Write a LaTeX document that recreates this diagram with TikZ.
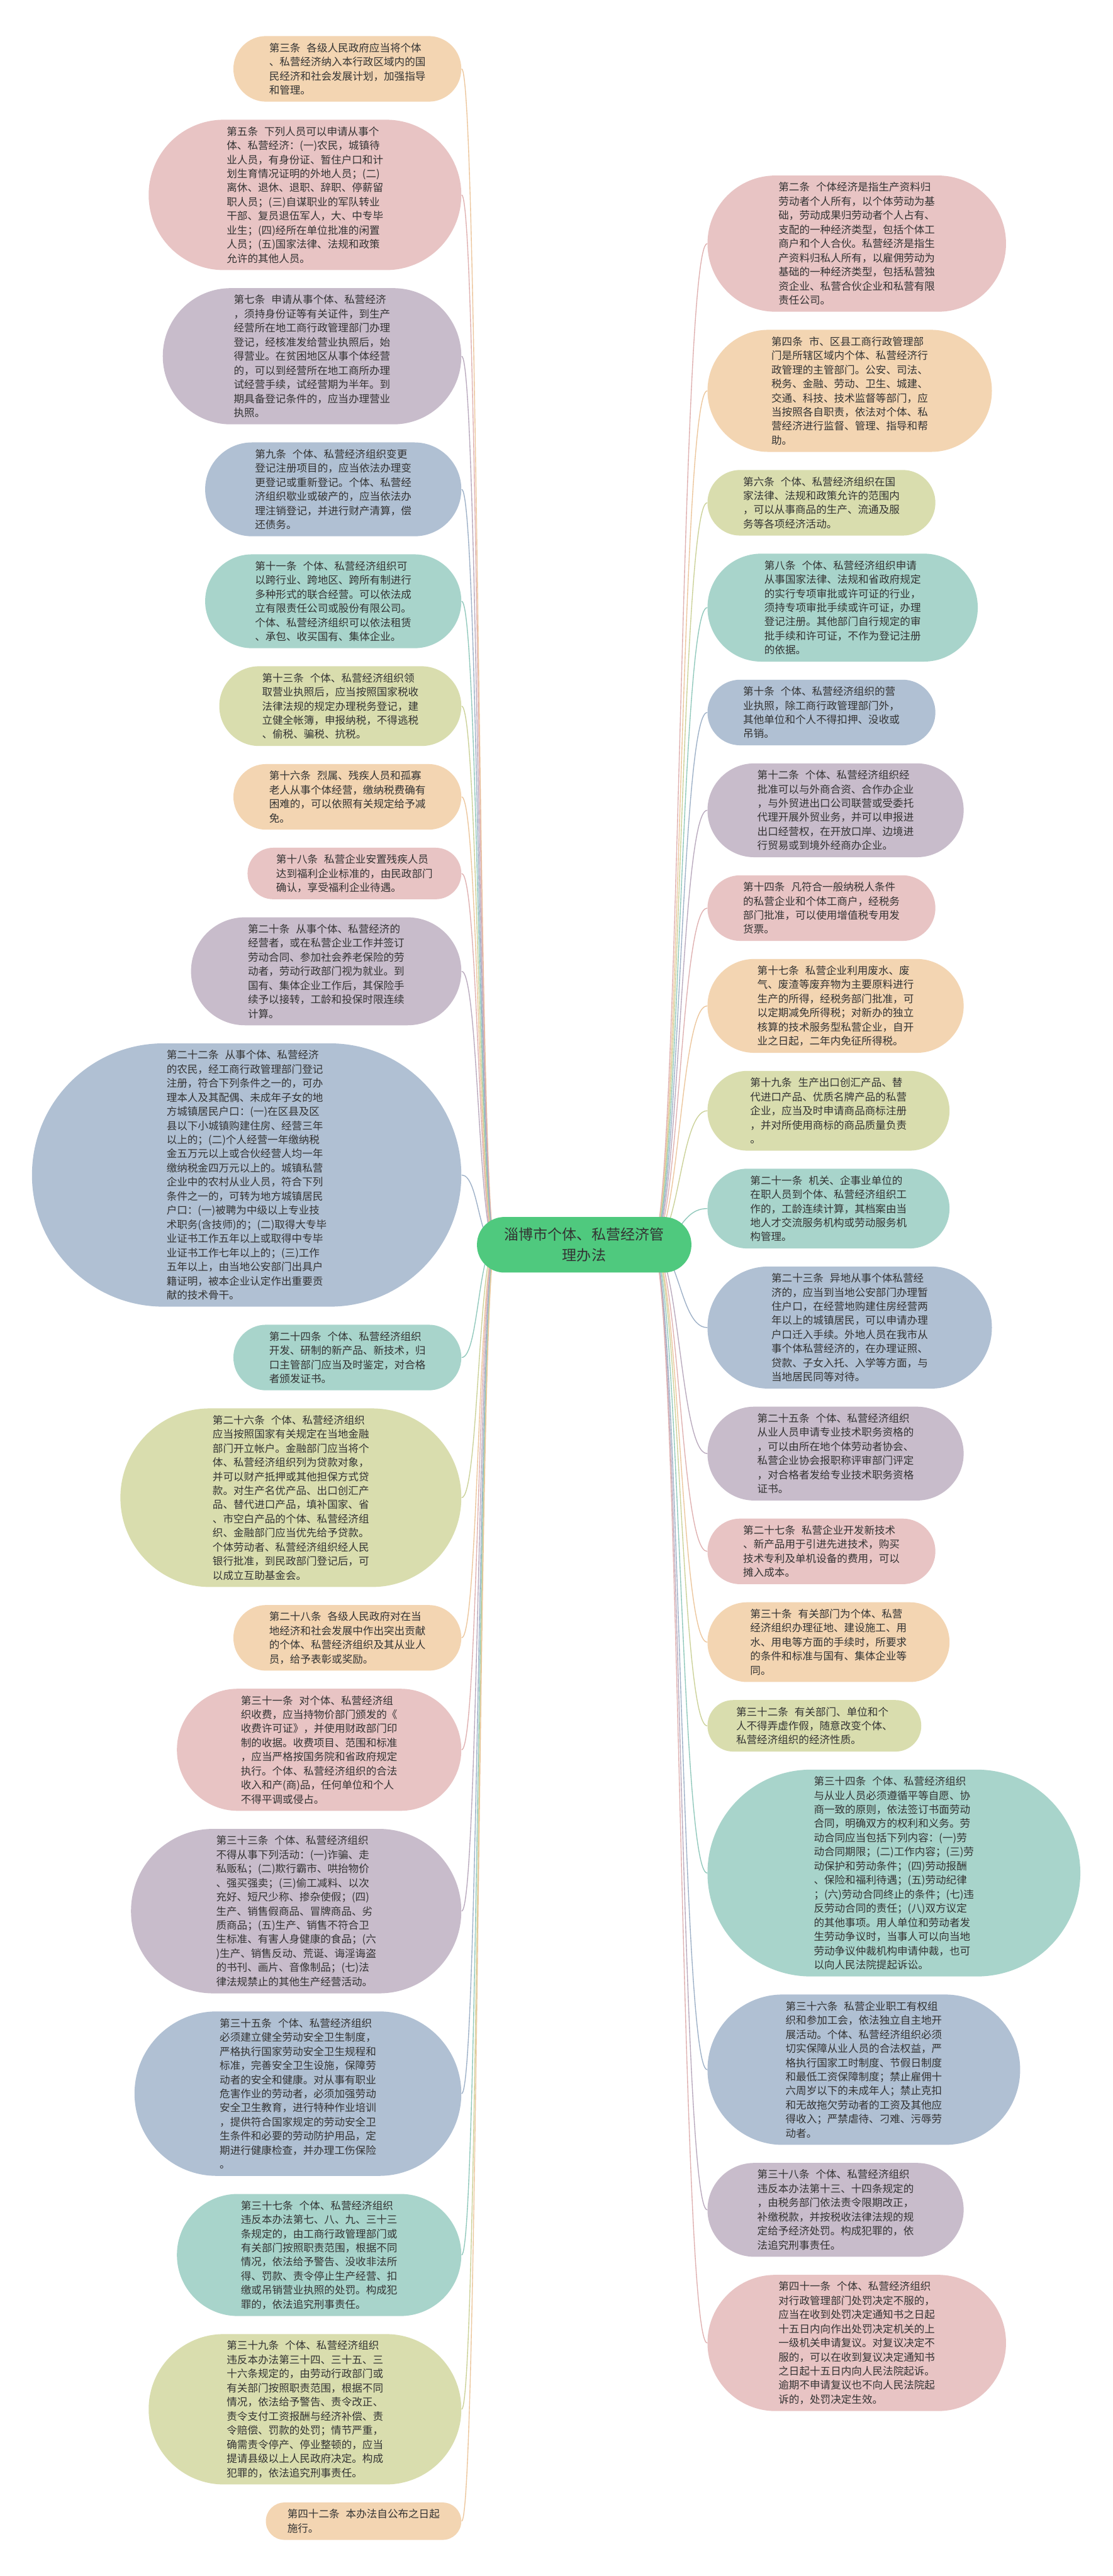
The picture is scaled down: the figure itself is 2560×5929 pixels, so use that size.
\documentclass[tikz,border=0pt]{standalone}
\usepackage{fontspec}
\newfontfamily\cjk{Noto Sans CJK SC}
\usetikzlibrary{calc}
\definecolor{cPeach}{HTML}{F3D5B2}
\definecolor{cPink}{HTML}{E8C4C4}
\definecolor{cLav}{HTML}{C8BCCB}
\definecolor{cBlue}{HTML}{B0C0D3}
\definecolor{cTeal}{HTML}{A8D4CB}
\definecolor{cOlive}{HTML}{D9DDAE}
\definecolor{lPeach}{HTML}{ECC69C}
\definecolor{lPink}{HTML}{DFB0B0}
\definecolor{lLav}{HTML}{B9A9BD}
\definecolor{lBlue}{HTML}{9DB0C7}
\definecolor{lTeal}{HTML}{90C8BB}
\definecolor{lOlive}{HTML}{CBD198}
\definecolor{cGreen}{HTML}{4FC97E}
\definecolor{txt}{HTML}{333333}
\pgfdeclarelayer{back}\pgfdeclarelayer{edges}
\pgfsetlayers{back,edges,main}
\newcommand\hs{\hspace{0.6em}}
\tikzset{
 leafbox/.style={rectangle, align=left, inner ysep=0pt, text=txt, font=\cjk\fontsize{7.2pt}{9.75pt}\selectfont},
 link/.style={line width=0.6pt},
}
\newcommand\leaf[7]{%
 \pgfmathsetmacro\hpx{32.5*#5+21}%
 \pgfmathsetmacro\cyy{#4+\hpx/2}%
 \pgfmathsetmacro\hpt{0.3*\hpx}%
 \pgfmathsetmacro\xs{\hpt/2+2}%
 \pgfmathsetmacro\rr{\hpt/2-0.05}%
 \node[leafbox, fill=#6, minimum height=\hpt pt, inner xsep=\xs pt, rounded corners=\rr pt, anchor=#2] (#1) at (#3,\cyy) {#7};%
}
\begin{document}
\begin{tikzpicture}[x=0.3pt,y=-0.3pt]
\begin{pgfonlayer}{back}
\fill[white] (0,0) rectangle (2560,5929);
\end{pgfonlayer}
\useasboundingbox (0,0) rectangle (2560,5929);

\node[fill=cGreen, rounded corners=19pt, minimum height=38.4pt, inner xsep=19pt, inner ysep=0pt, align=center, text=txt, font=\cjk\fontsize{10pt}{14pt}\selectfont] (ctr) at (1344,2865) {淄博市个体、私营经济管\\理办法};

% left column
\leaf{L1}{east}{1062}{83}{4}{cPeach}{第三条\hs 各级人民政府应当将个体\\、私营经济纳入本行政区域内的国\\民经济和社会发展计划，加强指导\\和管理。}
\leaf{L2}{east}{1062}{275.6}{10}{cPink}{第五条\hs 下列人员可以申请从事个\\体、私营经济：(一)农民，城镇待\\业人员，有身份证、暂住户口和计\\划生育情况证明的外地人员；(二)\\离休、退休、退职、辞职、停薪留\\职人员；(三)自谋职业的军队转业\\干部、复员退伍军人，大、中专毕\\业生；(四)经所在单位批准的闲置\\人员；(五)国家法律、法规和政策\\允许的其他人员。}
\leaf{L3}{east}{1062}{663.2}{9}{cLav}{第七条\hs 申请从事个体、私营经济\\，须持身份证等有关证件，到生产\\经营所在地工商行政管理部门办理\\登记，经核准发给营业执照后，始\\得营业。在贫困地区从事个体经营\\的，可以到经营所在地工商所办理\\试经营手续，试经营期为半年。到\\期具备登记条件的，应当办理营业\\执照。}
\leaf{L4}{east}{1062}{1018.3}{6}{cBlue}{第九条\hs 个体、私营经济组织变更\\登记注册项目的，应当依法办理变\\更登记或重新登记。个体、私营经\\济组织歇业或破产的，应当依法办\\理注销登记，并进行财产清算，偿\\还债务。}
\leaf{L5}{east}{1062}{1275.9}{6}{cTeal}{第十一条\hs 个体、私营经济组织可\\以跨行业、跨地区、跨所有制进行\\多种形式的联合经营。可以依法成\\立有限责任公司或股份有限公司。\\个体、私营经济组织可以依法租赁\\、承包、收买国有、集体企业。}
\leaf{L6}{east}{1062}{1533.5}{5}{cOlive}{第十三条\hs 个体、私营经济组织领\\取营业执照后，应当按照国家税收\\法律法规的规定办理税务登记，建\\立健全帐簿，申报纳税，不得逃税\\、偷税、骗税、抗税。}
\leaf{L7}{east}{1062}{1758.6}{4}{cPeach}{第十六条\hs 烈属、残疾人员和孤寡\\老人从事个体经营，缴纳税费确有\\困难的，可以依照有关规定给予减\\免。}
\leaf{L8}{east}{1062}{1951.2}{3}{cPink}{第十八条\hs 私营企业安置残疾人员\\达到福利企业标准的，由民政部门\\确认，享受福利企业待遇。}
\leaf{L9}{east}{1062}{2111.3}{7}{cLav}{第二十条\hs 从事个体、私营经济的\\经营者，或在私营企业工作并签订\\劳动合同、参加社会养老保险的劳\\动者，劳动行政部门视为就业。到\\国有、集体企业工作后，其保险手\\续予以接转，工龄和投保时限连续\\计算。}
\leaf{L10}{east}{1062}{2401.4}{18}{cBlue}{第二十二条\hs 从事个体、私营经济\\的农民，经工商行政管理部门登记\\注册，符合下列条件之一的，可办\\理本人及其配偶、未成年子女的地\\方城镇居民户口：(一)在区县及区\\县以下小城镇购建住房、经营三年\\以上的；(二)个人经营一年缴纳税\\金五万元以上或合伙经营人均一年\\缴纳税金四万元以上的。城镇私营\\企业中的农村从业人员，符合下列\\条件之一的，可转为地方城镇居民\\户口：(一)被聘为中级以上专业技\\术职务(含技师)的；(二)取得大专毕\\业证书工作五年以上或取得中专毕\\业证书工作七年以上的；(三)工作\\五年以上，由当地公安部门出具户\\籍证明，被本企业认定作出重要贡\\献的技术骨干。}
\leaf{L11}{east}{1062}{3049}{4}{cTeal}{第二十四条\hs 个体、私营经济组织\\开发、研制的新产品、新技术，归\\口主管部门应当及时鉴定，对合格\\者颁发证书。}
\leaf{L12}{east}{1062}{3241.6}{12}{cOlive}{第二十六条\hs 个体、私营经济组织\\应当按照国家有关规定在当地金融\\部门开立帐户。金融部门应当将个\\体、私营经济组织列为贷款对象，\\并可以财产抵押或其他担保方式贷\\款。对生产名优产品、出口创汇产\\品、替代进口产品，填补国家、省\\、市空白产品的个体、私营经济组\\织、金融部门应当优先给予贷款。\\个体劳动者、私营经济组织经人民\\银行批准，到民政部门登记后，可\\以成立互助基金会。}
\leaf{L13}{east}{1062}{3694.2}{4}{cPeach}{第二十八条\hs 各级人民政府对在当\\地经济和社会发展中作出突出贡献\\的个体、私营经济组织及其从业人\\员，给予表彰或奖励。}
\leaf{L14}{east}{1062}{3886.8}{8}{cPink}{第三十一条\hs 对个体、私营经济组\\织收费，应当持物价部门颁发的《\\收费许可证》，并使用财政部门印\\制的收据。收费项目、范围和标准\\，应当严格按国务院和省政府规定\\执行。个体、私营经济组织的合法\\收入和产(商)品，任何单位和个人\\不得平调或侵占。}
\leaf{L15}{east}{1062}{4209.4}{11}{cLav}{第三十三条\hs 个体、私营经济组织\\不得从事下列活动：(一)诈骗、走\\私贩私；(二)欺行霸市、哄抬物价\\、强买强卖；(三)偷工减料、以次\\充好、短尺少称、掺杂使假；(四)\\生产、销售假商品、冒牌商品、劣\\质商品；(五)生产、销售不符合卫\\生标准、有害人身健康的食品；(六\\)生产、销售反动、荒诞、诲淫诲盗\\的书刊、画片、音像制品；(七)法\\律法规禁止的其他生产经营活动。}
\leaf{L16}{east}{1062}{4629.5}{11}{cBlue}{第三十五条\hs 个体、私营经济组织\\必须建立健全劳动安全卫生制度，\\严格执行国家劳动安全卫生规程和\\标准，完善安全卫生设施，保障劳\\动者的安全和健康。对从事有职业\\危害作业的劳动者，必须加强劳动\\安全卫生教育，进行特种作业培训\\，提供符合国家规定的劳动安全卫\\生条件和必要的劳动防护用品，定\\期进行健康检查，并办理工伤保险\\。}
\leaf{L17}{east}{1062}{5049.6}{8}{cTeal}{第三十七条\hs 个体、私营经济组织\\违反本办法第七、八、九、三十三\\条规定的，由工商行政管理部门或\\有关部门按照职责范围，根据不同\\情况，依法给予警告、没收非法所\\得、罚款、责令停止生产经营、扣\\缴或吊销营业执照的处罚。构成犯\\罪的，依法追究刑事责任。}
\leaf{L18}{east}{1062}{5372.2}{10}{cOlive}{第三十九条\hs 个体、私营经济组织\\违反本办法第三十四、三十五、三\\十六条规定的，由劳动行政部门或\\有关部门按照职责范围，根据不同\\情况，依法给予警告、责令改正、\\责令支付工资报酬与经济补偿、责\\令赔偿、罚款的处罚；情节严重，\\确需责令停产、停业整顿的，应当\\提请县级以上人民政府决定。构成\\犯罪的，依法追究刑事责任。}
\leaf{L19}{east}{1062}{5759.8}{2}{cPeach}{第四十二条\hs 本办法自公布之日起\\施行。}

% right column
\leaf{R1}{west}{1627}{404}{9}{cPink}{第二条\hs 个体经济是指生产资料归\\劳动者个人所有，以个体劳动为基\\础，劳动成果归劳动者个人占有、\\支配的一种经济类型，包括个体工\\商户和个人合伙。私营经济是指生\\产资料归私人所有，以雇佣劳动为\\基础的一种经济类型，包括私营独\\资企业、私营合伙企业和私营有限\\责任公司。}
\leaf{R2}{west}{1627}{759.1}{8}{cPeach}{第四条\hs 市、区县工商行政管理部\\门是所辖区域内个体、私营经济行\\政管理的主管部门。公安、司法、\\税务、金融、劳动、卫生、城建、\\交通、科技、技术监督等部门，应\\当按照各自职责，依法对个体、私\\营经济进行监督、管理、指导和帮\\助。}
\leaf{R3}{west}{1627}{1081.7}{4}{cOlive}{第六条\hs 个体、私营经济组织在国\\家法律、法规和政策允许的范围内\\，可以从事商品的生产、流通及服\\务等各项经济活动。}
\leaf{R4}{west}{1627}{1274.3}{7}{cTeal}{第八条\hs 个体、私营经济组织申请\\从事国家法律、法规和省政府规定\\的实行专项审批或许可证的行业，\\须持专项审批手续或许可证，办理\\登记注册。其他部门自行规定的审\\批手续和许可证，不作为登记注册\\的依据。}
\leaf{R5}{west}{1627}{1564.4}{4}{cBlue}{第十条\hs 个体、私营经济组织的营\\业执照，除工商行政管理部门外，\\其他单位和个人不得扣押、没收或\\吊销。}
\leaf{R6}{west}{1627}{1757}{6}{cLav}{第十二条\hs 个体、私营经济组织经\\批准可以与外商合资、合作办企业\\，与外贸进出口公司联营或受委托\\代理开展外贸业务，并可以申报进\\出口经营权，在开放口岸、边境进\\行贸易或到境外经商办企业。}
\leaf{R7}{west}{1627}{2014.6}{4}{cPink}{第十四条\hs 凡符合一般纳税人条件\\的私营企业和个体工商户，经税务\\部门批准，可以使用增值税专用发\\货票。}
\leaf{R8}{west}{1627}{2207.2}{6}{cPeach}{第十七条\hs 私营企业利用废水、废\\气、废渣等废弃物为主要原料进行\\生产的所得，经税务部门批准，可\\以定期减免所得税；对新办的独立\\核算的技术服务型私营企业，自开\\业之日起，二年内免征所得税。}
\leaf{R9}{west}{1627}{2464.8}{5}{cOlive}{第十九条\hs 生产出口创汇产品、替\\代进口产品、优质名牌产品的私营\\企业，应当及时申请商品商标注册\\，并对所使用商标的商品质量负责\\。}
\leaf{R10}{west}{1627}{2689.9}{5}{cTeal}{第二十一条\hs 机关、企事业单位的\\在职人员到个体、私营经济组织工\\作的，工龄连续计算，其档案由当\\地人才交流服务机构或劳动服务机\\构管理。}
\leaf{R11}{west}{1627}{2915}{8}{cBlue}{第二十三条\hs 异地从事个体私营经\\济的，应当到当地公安部门办理暂\\住户口，在经营地购建住房经营两\\年以上的城镇居民，可以申请办理\\户口迁入手续。外地人员在我市从\\事个体私营经济的，在办理证照、\\贷款、子女入托、入学等方面，与\\当地居民同等对待。}
\leaf{R12}{west}{1627}{3237.6}{6}{cLav}{第二十五条\hs 个体、私营经济组织\\从业人员申请专业技术职务资格的\\，可以由所在地个体劳动者协会、\\私营企业协会报职称评审部门评定\\，对合格者发给专业技术职务资格\\证书。}
\leaf{R13}{west}{1627}{3495.2}{4}{cPink}{第二十七条\hs 私营企业开发新技术\\、新产品用于引进先进技术，购买\\技术专利及单机设备的费用，可以\\摊入成本。}
\leaf{R14}{west}{1627}{3687.8}{5}{cPeach}{第三十条\hs 有关部门为个体、私营\\经济组织办理征地、建设施工、用\\水、用电等方面的手续时，所要求\\的条件和标准与国有、集体企业等\\同。}
\leaf{R15}{west}{1627}{3912.9}{3}{cOlive}{第三十二条\hs 有关部门、单位和个\\人不得弄虚作假，随意改变个体、\\私营经济组织的经济性质。}
\leaf{R16}{west}{1627}{4073}{14}{cTeal}{第三十四条\hs 个体、私营经济组织\\与从业人员必须遵循平等自愿、协\\商一致的原则，依法签订书面劳动\\合同，明确双方的权利和义务。劳\\动合同应当包括下列内容：(一)劳\\动合同期限；(二)工作内容；(三)劳\\动保护和劳动条件；(四)劳动报酬\\、保险和福利待遇；(五)劳动纪律\\；(六)劳动合同终止的条件；(七)违\\反劳动合同的责任；(八)双方议定\\的其他事项。用人单位和劳动者发\\生劳动争议时，当事人可以向当地\\劳动争议仲裁机构申请仲裁，也可\\以向人民法院提起诉讼。}
\leaf{R17}{west}{1627}{4590.6}{10}{cBlue}{第三十六条\hs 私营企业职工有权组\\织和参加工会，依法独立自主地开\\展活动。个体、私营经济组织必须\\切实保障从业人员的合法权益，严\\格执行国家工时制度、节假日制度\\和最低工资保障制度；禁止雇佣十\\六周岁以下的未成年人；禁止克扣\\和无故拖欠劳动者的工资及其他应\\得收入；严禁虐待、刁难、污辱劳\\动者。}
\leaf{R18}{west}{1627}{4978.2}{6}{cLav}{第三十八条\hs 个体、私营经济组织\\违反本办法第十三、十四条规定的\\，由税务部门依法责令限期改正，\\补缴税款，并按税收法律法规的规\\定给予经济处罚。构成犯罪的，依\\法追究刑事责任。}
\leaf{R19}{west}{1627}{5235.8}{9}{cPink}{第四十一条\hs 个体、私营经济组织\\对行政管理部门处罚决定不服的，\\应当在收到处罚决定通知书之日起\\十五日内向作出处罚决定机关的上\\一级机关申请复议。对复议决定不\\服的，可以在收到复议决定通知书\\之日起十五日内向人民法院起诉。\\逾期不申请复议也不向人民法院起\\诉的，处罚决定生效。}

\begin{pgfonlayer}{edges}
\coordinate (cl) at ($(ctr.west)+(43,0)$);
\coordinate (cr) at ($(ctr.east)+(-91,0)$);
\foreach \n/\c in {L1/lPeach,L2/lPink,L3/lLav,L4/lBlue,L5/lTeal,L6/lOlive,L7/lPeach,L8/lPink,L9/lLav,L10/lBlue,L11/lTeal,L12/lOlive,L13/lPeach,L14/lPink,L15/lLav,L16/lBlue,L17/lTeal,L18/lOlive,L19/lPeach}
  \draw[link, draw=\c] (cl) .. controls +(-39,0) and +(39,0) .. (\n.east);
\foreach \n/\c in {R1/lPink,R2/lPeach,R3/lOlive,R4/lTeal,R5/lBlue,R6/lLav,R7/lPink,R8/lPeach,R9/lOlive,R10/lTeal,R11/lBlue,R12/lLav,R13/lPink,R14/lPeach,R15/lOlive,R16/lTeal,R17/lBlue,R18/lLav,R19/lPink}
  \draw[link, draw=\c] (cr) .. controls +(63,0) and +(-63,0) .. (\n.west);
\end{pgfonlayer}
\end{tikzpicture}
\end{document}
